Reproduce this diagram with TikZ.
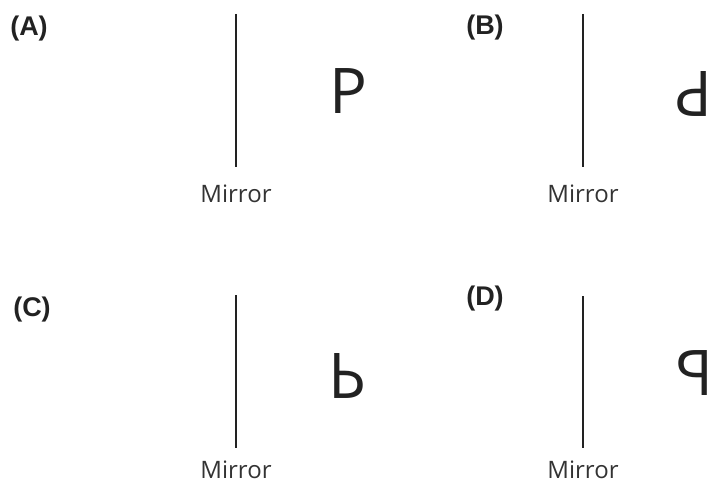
\documentclass[tikz,border=0pt]{standalone}
\usepackage{fontspec}
\setmainfont{Open Sans}
\newfontfamily\labfont{Liberation Sans}
\definecolor{inkc}{HTML}{222222}
\definecolor{txtc}{HTML}{333333}
\tikzset{
  panellabel/.style={inner sep=0pt, font=\labfont\bfseries\fontsize{27}{27}\selectfont, text=inkc},
  mirrorlabel/.style={inner sep=0pt, font=\fontsize{24}{24}\selectfont, text=txtc},
  glyph/.style={inner sep=0pt, font=\fontsize{63}{63}\selectfont, text=inkc},
  mirrorline/.style={draw=inkc, line width=2pt}
}
\begin{document}
\begin{tikzpicture}[x=1pt,y=-1pt]
\useasboundingbox (0,0) rectangle (713,484);
% panel labels
\node[panellabel] (la) at (29,29) {(A)};
\node[panellabel] (lb) at (485,28) {(B)};
\node[panellabel] (lc) at (32,310) {(C)};
\node[panellabel] (ld) at (485,299) {(D)};
% mirrors
\coordinate (ma1) at (236,14); \coordinate (ma2) at (236,167);
\coordinate (mb1) at (583,14); \coordinate (mb2) at (583,167);
\coordinate (mc1) at (236,295); \coordinate (mc2) at (236,448);
\coordinate (md1) at (583,296); \coordinate (md2) at (583,448);
\draw[mirrorline] (ma1) -- (ma2);
\draw[mirrorline] (mb1) -- (mb2);
\draw[mirrorline] (mc1) -- (mc2);
\draw[mirrorline] (md1) -- (md2);
\node[mirrorlabel] (ta) at (236,194) {Mirror};
\node[mirrorlabel] (tb) at (583,194) {Mirror};
\node[mirrorlabel] (tc) at (236,470) {Mirror};
\node[mirrorlabel] (td) at (583,470) {Mirror};
% letters
\node[glyph] (pa) at (348,91.5) {P};
\node[glyph, rotate=180] (pb) at (694,94) {P};
\node[glyph] (pc) at (347.5,376) {\scalebox{1}[-1]{P}};
\node[glyph] (pd) at (695,373) {\scalebox{-1}[1]{P}};
\end{tikzpicture}
\end{document}
